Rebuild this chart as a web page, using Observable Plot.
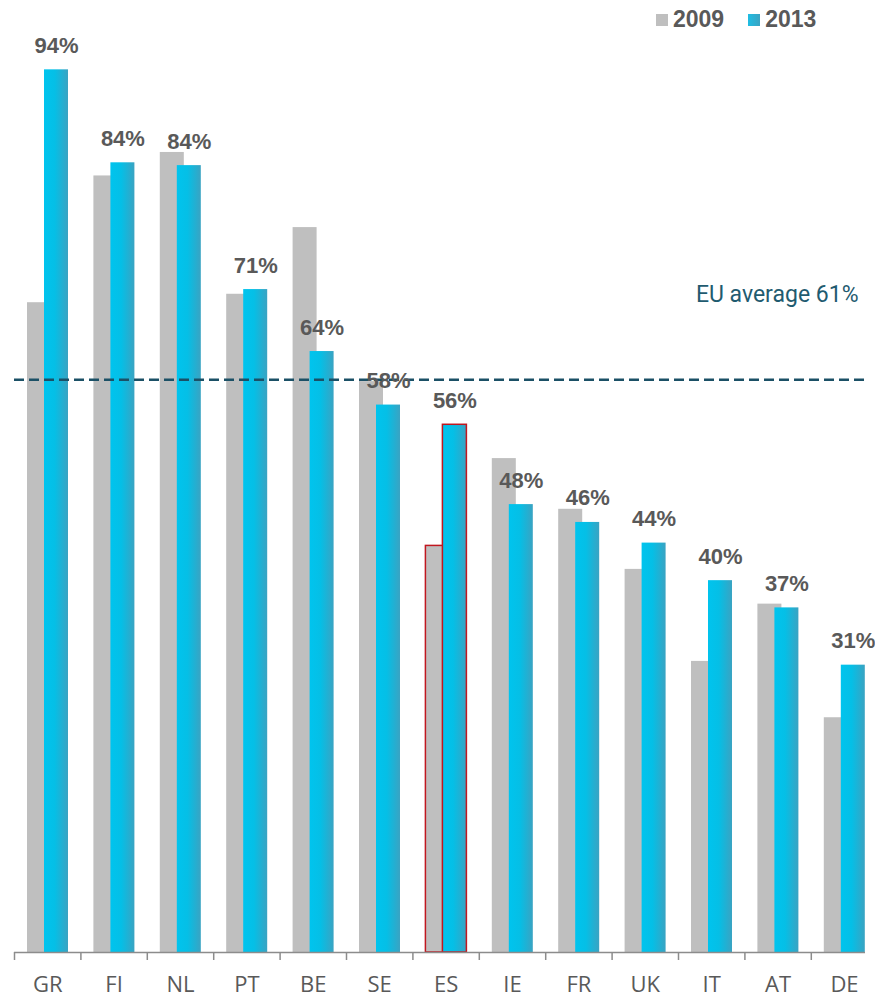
<!DOCTYPE html>
<html>
<head>
<meta charset="utf-8">
<script src="https://cdn.jsdelivr.net/npm/d3@7"></script>
<script src="https://cdn.jsdelivr.net/npm/@observablehq/plot@0.6"></script>
<style>
  html, body { margin: 0; padding: 0; background: #fff; }
  #wrap { position: relative; width: 875px; height: 997px; }
  #legend { position: absolute; top: 6px; left: 656px; font-family: "Liberation Sans", Arial, sans-serif;
            font-weight: bold; font-size: 23px; color: #595959; display: flex; align-items: center; white-space: nowrap; }
  #legend .sw { display: inline-block; width: 12px; height: 12px; margin-right: 5px; }
  #legend .item { display: inline-flex; align-items: center; margin-right: 24px; }
</style>
</head>
<body>
<div id="wrap">
  <div id="chart"></div>
  <div id="legend"></div>
</div>
<script>
const countries = ["GR","FI","NL","PT","BE","SE","ES","IE","FR","UK","IT","AT","DE"];
const values2009 = [69.2, 82.7, 85.2, 70.1, 77.2, 60.8, 43.3, 52.6, 47.2, 40.8, 31.0, 37.1, 25.0];
const values2013 = [94.0, 84.1, 83.8, 70.6, 64.0, 58.3, 56.2, 47.7, 45.8, 43.6, 39.6, 36.7, 30.6];
const labels2013 = ["94%","84%","84%","71%","64%","58%","56%","48%","46%","44%","40%","37%","31%"];
const years = ["2009","2013"];
const euAverage = 61;
const euLabel = "EU average 61%";
const highlight = "ES";

const grayColor = "#bfbfbf";
const textColor = "#595959";

const d09 = countries.map((c, i) => ({country: c, value: values2009[i]}));
const d13 = countries.map((c, i) => ({country: c, value: values2013[i], label: labels2013[i]}));

const W = 875, H = 997;
const x0 = 14, bw = 66.4;
const xRange = [x0, x0 + bw * countries.length];

function defs() {
  const ns = "http://www.w3.org/2000/svg";
  const d = document.createElementNS(ns, "defs");
  const g = document.createElementNS(ns, "linearGradient");
  g.setAttribute("id", "cyanGrad");
  g.setAttribute("x1", "0"); g.setAttribute("x2", "1"); g.setAttribute("y1", "0"); g.setAttribute("y2", "0");
  [["0", "#00c4ee"], ["0.45", "#05bfe6"], ["1", "#3aa3c2"]].forEach(([o, c]) => {
    const s = document.createElementNS(ns, "stop");
    s.setAttribute("offset", o); s.setAttribute("stop-color", c);
    g.appendChild(s);
  });
  d.appendChild(g);
  return d;
}

const grayIn = {insetLeft: 13, insetRight: bw - 13 - 24};
const cyanIn = {insetLeft: 30, insetRight: bw - 30 - 24};

const chart = Plot.plot({
  width: W,
  height: H,
  marginTop: 13,
  marginBottom: 45,
  marginLeft: x0,
  marginRight: 10,
  style: {background: "#fff", overflow: "visible"},
  x: {type: "band", domain: countries, range: xRange, padding: 0, round: false, label: null},
  y: {domain: [0, 100], axis: null},
  marks: [
    defs,
    Plot.barY(d09, {x: "country", y: "value", fill: grayColor, ...grayIn}),
    Plot.barY(d09.filter(d => d.country === highlight), {x: "country", y: "value", fill: grayColor, stroke: "#c0171f", strokeWidth: 1.5, ...grayIn}),
    Plot.barY(d13, {x: "country", y: "value", fill: "url(#cyanGrad)", ...cyanIn}),
    Plot.barY(d13.filter(d => d.country === highlight), {x: "country", y: "value", fill: "url(#cyanGrad)", stroke: "#c0171f", strokeWidth: 1.5, ...cyanIn}),
    Plot.ruleY([euAverage], {stroke: "#1b5066", strokeWidth: 2.5, strokeDasharray: "10,5"}),
    Plot.text([euLabel], {y: () => euAverage, frameAnchor: "right", textAnchor: "end", dx: -7, dy: -85,
      fill: "#1f5b70", fontSize: 23, fontFamily: "Roboto, 'Liberation Sans', Arial, sans-serif"}),
    Plot.text(d13, {x: "country", y: "value", text: "label", dx: 42 - bw / 2, dy: -17, lineAnchor: "bottom",
      fill: textColor, fontSize: 22, fontWeight: "bold", fontFamily: "'Liberation Sans', Arial, sans-serif"}),
    Plot.ruleY([0], {stroke: "#8c8c8c", strokeWidth: 1.5}),
    Plot.axisX({tickSize: 8, tickFormat: () => "", dx: -bw / 2, stroke: "#8c8c8c", strokeWidth: 1.5, label: null}),
    Plot.axisX({tickSize: 0, tickPadding: 24, fontSize: 22, fill: textColor, fontFamily: "'Open Sans', sans-serif", label: null})
  ]
});

document.getElementById("chart").appendChild(chart);

const legend = document.getElementById("legend");
const legendColors = [grayColor, "#2fb3d6"];
years.forEach((y, i) => {
  const item = document.createElement("span");
  item.className = "item";
  const sw = document.createElement("span");
  sw.className = "sw";
  sw.style.background = i === 1 ? "linear-gradient(to right, #1fbde3, #3aa3c2)" : legendColors[i];
  item.appendChild(sw);
  item.appendChild(document.createTextNode(y));
  legend.appendChild(item);
});
</script>
</body>
</html>
